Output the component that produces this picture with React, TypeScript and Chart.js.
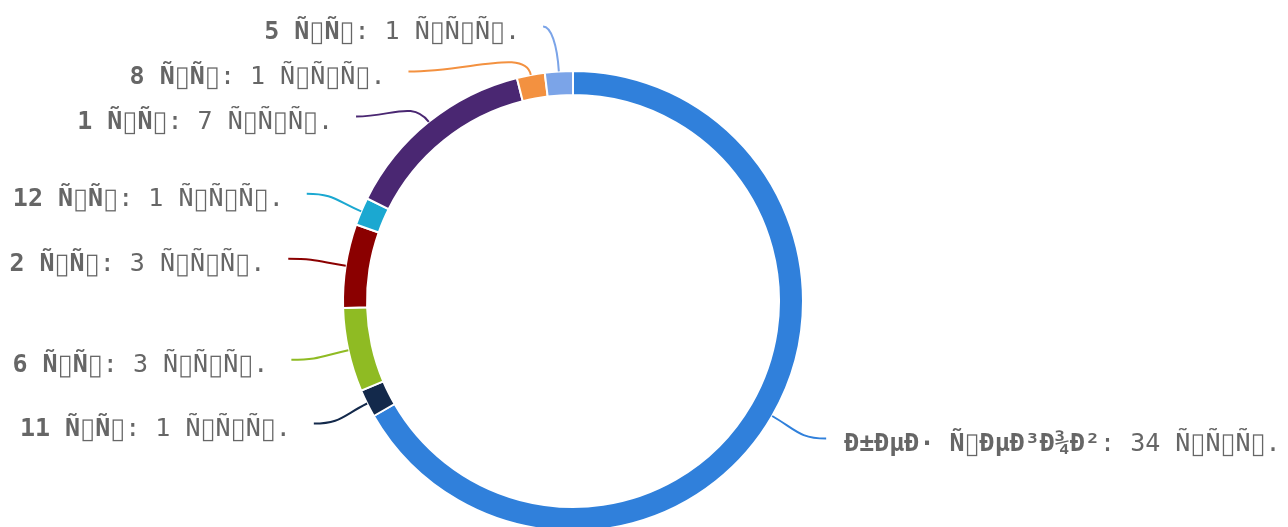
import React, { useEffect, useRef } from "react";
import { Chart, registerables } from "chart.js";

Chart.register(...registerables);

// Data (text kept exactly as displayed: UTF-8 Russian shown as Latin-1)
const categories = [
  "Ð±ÐµÐ· Ñ\u0082ÐµÐ³Ð¾Ð²",
  "11 Ñ\u0083Ñ\u0080",
  "6 Ñ\u0083Ñ\u0080",
  "2 Ñ\u0083Ñ\u0080",
  "12 Ñ\u0083Ñ\u0080",
  "1 Ñ\u0083Ñ\u0080",
  "8 Ñ\u0083Ñ\u0080",
  "5 Ñ\u0083Ñ\u0080",
];
const values = [34, 1, 3, 3, 1, 7, 1, 1];
const unitText = "Ñ\u0081Ñ\u0082Ñ\u0080.";
const colors = [
  "#3080db",
  "#13294b",
  "#8fbb23",
  "#8b0000",
  "#1ba8d1",
  "#4a2772",
  "#f39140",
  "#7ba4e8",
];

const FONT = "'DejaVu Sans Mono', monospace";
const FONT_SIZE = 25;
const TEXT_COLOR = "#666666";
const L1 = 45;
const L2 = 13;
const LABEL_H = 45;
const GAP_LEFT = 23;
const GAP_RIGHT = 18;

const isC1 = (ch: string) => {
  const c = ch.charCodeAt(0);
  return c >= 0x80 && c <= 0x9f;
};

// Draws (or only measures) rich text; control characters get the
// font's missing-glyph box with a monospace cell advance.
function richText(
  ctx: CanvasRenderingContext2D,
  parts: { text: string; font: string }[],
  x: number,
  baseline: number,
  draw: boolean
): number {
  let cx = x;
  for (const part of parts) {
    ctx.font = part.font;
    const cell = ctx.measureText("M").width;
    let run = "";
    for (const ch of Array.from(part.text)) {
      if (isC1(ch)) {
        const w = ctx.measureText(run).width;
        if (draw) {
          ctx.fillText(run + ch, cx, baseline);
          const em = FONT_SIZE;
          ctx.strokeRect(cx + w + cell * 0.2, baseline - em * 0.62, cell * 0.6, em * 0.82);
        }
        cx += w + cell;
        run = "";
      } else {
        run += ch;
      }
    }
    if (run) {
      if (draw) ctx.fillText(run, cx, baseline);
      cx += ctx.measureText(run).width;
    }
  }
  return cx - x;
}

const outLabels = {
  id: "outLabels",
  afterDatasetsDraw(chart: any) {
    const meta = chart.getDatasetMeta(0);
    const ctx: CanvasRenderingContext2D = chart.ctx;
    const items = meta.data.map((arc: any, i: number) => {
      const p = arc.getProps(["x", "y", "startAngle", "endAngle", "outerRadius"], true);
      const mid = (p.startAngle + p.endAngle) / 2;
      const cos = Math.cos(mid);
      const sin = Math.sin(mid);
      const r = p.outerRadius;
      const dir = cos >= 0 ? 1 : -1;
      const p1x = p.x + (r + L1) * cos;
      return {
        i,
        cx: p.x,
        cy: p.y,
        r,
        cos,
        sin,
        dir,
        p0x: p.x + r * cos,
        p0y: p.y + r * sin,
        p1x,
        y: p.y + (r + L1) * sin,
        x2: p1x + dir * (dir > 0 ? L2 + 2 : L2),
      };
    });

    const layoutSide = (list: any[], dir: number) => {
      if (list.length < 2) return;
      list.sort((a, b) => a.y - b.y);
      let last = 0;
      let adjusted = false;
      for (const it of list) {
        const top = it.y - LABEL_H / 2;
        if (top < last) {
          it.y += last - top;
          adjusted = true;
        }
        last = it.y + LABEL_H / 2;
      }
      const bottomBound = chart.height;
      if (last > bottomBound) {
        let limit = bottomBound;
        for (let k = list.length - 1; k >= 0; k--) {
          const it = list[k];
          const bottom = it.y + LABEL_H / 2;
          if (bottom > limit) {
            it.y -= bottom - limit;
            adjusted = true;
          }
          limit = it.y - LABEL_H / 2;
        }
      }
      if (!adjusted) return;
      const cx = list[0].cx;
      const cy = list[0].cy;
      const semis: any = {
        top: { list: [] as any[], maxY: 0, rB: 0 },
        bottom: { list: [] as any[], maxY: 0, rB: 0 },
      };
      for (const it of list) {
        const semi = it.y > cy ? semis.bottom : semis.top;
        const dy = Math.abs(it.y - cy);
        const rA = it.r + L1;
        if (dy >= semi.maxY) {
          const dx = it.p1x - cx;
          semi.rB = Math.abs(dx) < rA ? Math.sqrt((dy * dy) / (1 - (dx * dx) / (rA * rA))) : rA;
          semi.maxY = dy;
        }
        semi.list.push(it);
      }
      for (const key of ["top", "bottom"]) {
        const semi = semis[key];
        for (const it of semi.list) {
          const dy = Math.abs(it.y - cy);
          const rA = it.r + L1;
          const dx = Math.sqrt(Math.max(0, 1 - (dy * dy) / (semi.rB * semi.rB)) * rA * rA);
          it.p1x = cx + dx * dir;
          it.x2 = cx + (dx + L2) * dir;
        }
      }
    };

    layoutSide(items.filter((it: any) => it.dir < 0), -1);
    layoutSide(items.filter((it: any) => it.dir > 0), 1);

    ctx.save();
    for (const it of items) {
      const color = colors[it.i];
      // leader line
      const a = 27;
      const c1x = it.p0x + a * it.cos;
      const c1y = it.p0y + a * it.sin;
      const c2x = it.x2 + (it.p0x - it.x2) * 0.5;
      const c2y = it.y;
      ctx.beginPath();
      ctx.moveTo(it.p0x, it.p0y);
      ctx.bezierCurveTo(c1x, c1y, c2x, c2y, it.x2, it.y);
      ctx.strokeStyle = color;
      ctx.lineWidth = 2;
      ctx.stroke();

      // label text
      const parts = [
        { text: categories[it.i], font: `bold ${FONT_SIZE}px ${FONT}` },
        { text: ": " + values[it.i] + " " + unitText, font: `${FONT_SIZE}px ${FONT}` },
      ];
      ctx.textBaseline = "alphabetic";
      ctx.textAlign = "left";
      ctx.fillStyle = TEXT_COLOR;
      ctx.strokeStyle = TEXT_COLOR;
      ctx.lineWidth = 1.3;
      const baseline = it.y + 12;
      const width = richText(ctx, parts, 0, baseline, false);
      const startX = it.dir < 0 ? it.x2 - GAP_LEFT - width : it.x2 + GAP_RIGHT;
      richText(ctx, parts, startX, baseline, true);
    }
    ctx.restore();
  },
};

export default function App() {
  const canvasRef = useRef<HTMLCanvasElement | null>(null);

  useEffect(() => {
    if (!canvasRef.current) return;
    const chart = new Chart(canvasRef.current, {
      type: "doughnut",
      data: {
        labels: categories,
        datasets: [
          {
            data: values,
            backgroundColor: colors,
            borderColor: "#ffffff",
            borderWidth: 2,
            clip: false as any,
          } as any,
        ],
      },
      options: {
        animation: false,
        responsive: true,
        maintainAspectRatio: false,
        events: [],
        radius: 230,
        cutout: "89.57%",
        layout: { padding: { left: 0, right: 142, top: 75, bottom: 0 } },
        plugins: {
          legend: { display: false },
          tooltip: { enabled: false },
        },
      } as any,
      plugins: [outLabels],
    });
    return () => chart.destroy();
  }, []);

  return (
    <div style={{ position: "absolute", left: 0, top: 0, width: 1288, height: 527, background: "#fff" }}>
      <canvas ref={canvasRef} />
    </div>
  );
}
